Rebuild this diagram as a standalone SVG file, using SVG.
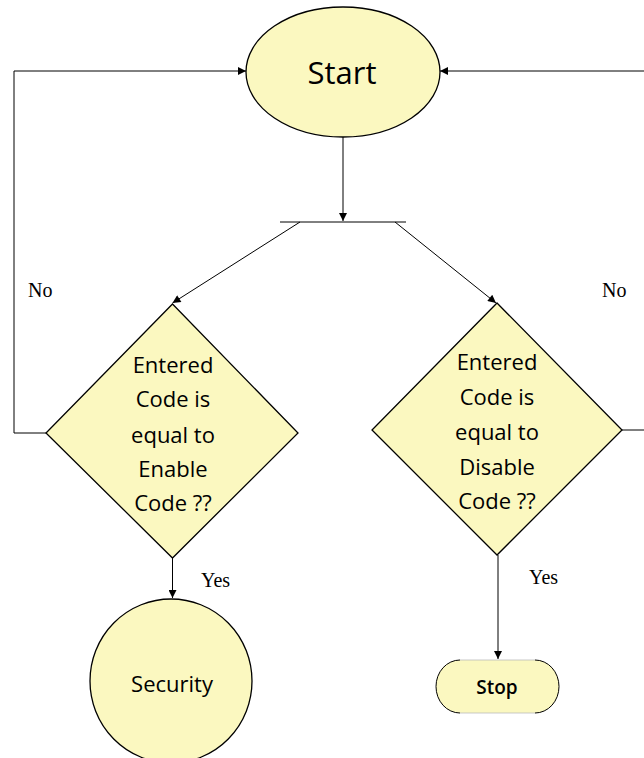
<svg xmlns="http://www.w3.org/2000/svg" width="644" height="758" viewBox="0 0 644 758">
<defs>
<style>
.node{fill:#FBF8C0;stroke:#000;stroke-width:1.3}
.nodefill{fill:#FBF8C0;stroke:none}
.edge{fill:none;stroke:#000;stroke-width:1}
.lbl{font-family:"Open Sans","Liberation Sans",sans-serif;fill:#000;text-anchor:middle;dominant-baseline:central}
.yn{font-family:"Liberation Serif","Times New Roman",serif;font-size:20px;fill:#000;dominant-baseline:central}
</style>
<marker id="arr" viewBox="0 0 10 10" refX="10" refY="5" markerWidth="10" markerHeight="8" markerUnits="userSpaceOnUse" orient="auto">
<path d="M0,0 L10,5 L0,10 z" fill="#000"/>
</marker>
</defs>
<rect width="644" height="758" fill="#fff"/>
<g id="connectors">
<path class="edge" d="M46,433 L14,433 L14,71 L246,71" marker-end="url(#arr)"/>
<path class="edge" d="M622,430 L644,430"/>
<path class="edge" d="M644,71 L440,71" marker-end="url(#arr)"/>
<path class="edge" d="M343,137 L343,221" marker-end="url(#arr)"/>
<path class="edge" d="M280,222 L406,222"/>
<path class="edge" d="M300,222 L172.5,303" marker-end="url(#arr)"/>
<path class="edge" d="M395,222 L496,303" marker-end="url(#arr)"/>
<path class="edge" d="M172.5,557 L172.5,598" marker-end="url(#arr)"/>
<path class="edge" d="M498,555 L498,659" marker-end="url(#arr)"/>
<text class="yn" x="28" y="290">No</text>
<text class="yn" x="602" y="290">No</text>
<text class="yn" x="201" y="580">Yes</text>
<text class="yn" x="529" y="577">Yes</text>
</g>
<g id="start">
<ellipse class="node" cx="343" cy="72" rx="97" ry="65"/>
<text class="lbl" x="342" y="72" font-size="31">Start</text>
</g>
<g id="enable-check">
<polygon class="node" points="172.5,304 298,433 172.5,558 46,433"/>
<text class="lbl" x="173" y="364" font-size="22">Entered</text>
<text class="lbl" x="173" y="398" font-size="22">Code is</text>
<text class="lbl" x="173" y="434" font-size="22">equal to</text>
<text class="lbl" x="173" y="468" font-size="22">Enable</text>
<text class="lbl" x="173" y="502" font-size="22">Code ??</text>
</g>
<g id="disable-check">
<polygon class="node" points="497,303 622,430 497,555 372,430"/>
<text class="lbl" x="497" y="361" font-size="22">Entered</text>
<text class="lbl" x="497" y="396" font-size="22">Code is</text>
<text class="lbl" x="497" y="431" font-size="22">equal to</text>
<text class="lbl" x="497" y="466" font-size="22">Disable</text>
<text class="lbl" x="497" y="500" font-size="22">Code ??</text>
</g>
<g id="security">
<ellipse class="node" cx="171" cy="681" rx="81" ry="82"/>
<text class="lbl" x="172" y="683" font-size="22">Security</text>
</g>
<g id="stop">
<rect class="nodefill" x="436" y="660" width="123" height="53" rx="24" ry="26"/>
<path class="edge" d="M460,660 A24,26.5 0 0 0 460,713 M535,660 A24,26.5 0 0 1 535,713" stroke-width="1.2"/>
<path d="M460,660 L535,660 M460,713 L535,713" fill="none" stroke="#bbb" stroke-width="0.8"/>
<text class="lbl" x="497" y="687" font-size="19" font-weight="600">Stop</text>
</g>
</svg>
